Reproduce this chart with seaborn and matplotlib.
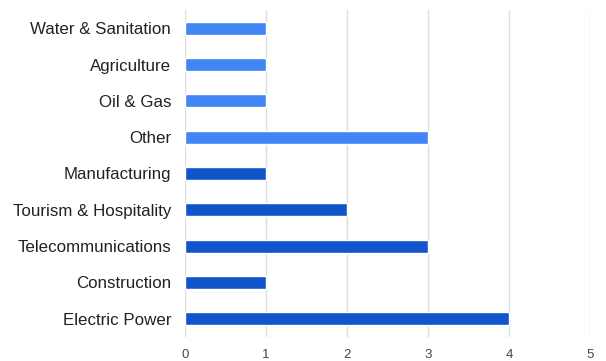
import matplotlib
matplotlib.use("Agg")
import matplotlib.pyplot as plt
import seaborn as sns
import pandas as pd

categories = [
    "Water & Sanitation", "Agriculture", "Oil & Gas", "Other",
    "Manufacturing", "Tourism & Hospitality", "Telecommunications",
    "Construction", "Electric Power",
]
counts = [1, 1, 1, 3, 1, 2, 3, 1, 4]
bar_colors = ["#4285F4"] * 4 + ["#1155CC"] * 5
x_ticks = [0, 1, 2, 3, 4, 5]

sns.set_theme(style="white")
plt.rcParams["font.family"] = ["Liberation Sans", "DejaVu Sans"]

df = pd.DataFrame({"sector": categories, "count": counts})

fig = plt.figure(figsize=(6.06, 3.61), dpi=100)
ax = fig.add_axes([185 / 606, 1 - 337 / 361, 405 / 606, 327 / 361])

sns.barplot(data=df, y="sector", x="count", hue="sector",
            palette=dict(zip(categories, bar_colors)), legend=False,
            width=0.36, saturation=1, ax=ax, zorder=3)

ax.set_xlim(0, 5)
ax.set_xticks(x_ticks)
ax.set_xticklabels([str(t) for t in x_ticks])
ax.set_xlabel("")
ax.set_ylabel("")
ax.grid(axis="x", color="#dedede", linewidth=1, zorder=0)
ax.grid(axis="y", visible=False)
for s in ax.spines.values():
    s.set_visible(False)
ax.tick_params(axis="y", length=0, pad=10, labelsize=12.2, labelcolor="#222222")
ax.tick_params(axis="x", length=0, pad=9, labelsize=9.5, labelcolor="#444444")

fig.savefig("out.png", dpi=100, facecolor="white")
